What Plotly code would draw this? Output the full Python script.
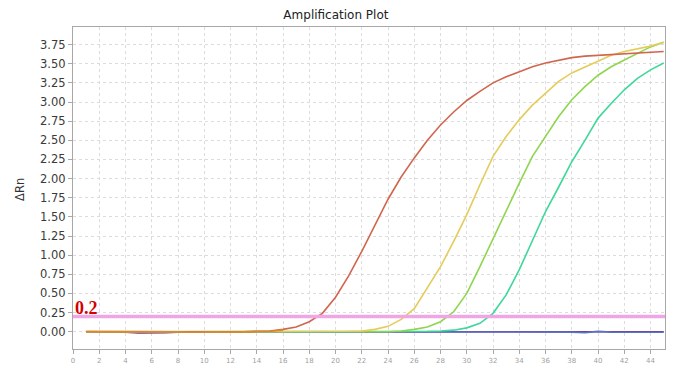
import plotly.graph_objects as go

cycles = list(range(1, 46))

red = [0, 0, 0, 0, -0.005, -0.005, 0, 0, -0.005, 0,
       0, 0, 0, 0.005, 0.01, 0.03, 0.06, 0.13, 0.24, 0.45,
       0.73, 1.05, 1.39, 1.73, 2.02, 2.27, 2.50, 2.70, 2.87, 3.02,
       3.14, 3.25, 3.33, 3.40, 3.46, 3.51, 3.55, 3.58, 3.60, 3.61,
       3.62, 3.63, 3.64, 3.65, 3.66]
yellow = [0, 0, 0, 0, 0, 0, 0, 0, 0, 0,
          0, 0, 0, 0, 0, 0, 0, 0, 0, 0.005,
          0.005, 0.01, 0.03, 0.07, 0.16, 0.30, 0.57, 0.85, 1.18, 1.53,
          1.92, 2.29, 2.55, 2.77, 2.96, 3.11, 3.27, 3.38, 3.46, 3.54,
          3.61, 3.66, 3.69, 3.73, 3.78]
green = [0, 0, 0, 0, 0, 0, 0, 0, 0, 0,
         0, 0, 0, 0, 0, 0, 0, 0, 0, 0,
         0, 0, 0, 0, 0.01, 0.03, 0.06, 0.13, 0.26, 0.50,
         0.85, 1.22, 1.59, 1.94, 2.29, 2.55, 2.81, 3.03, 3.20, 3.35,
         3.46, 3.55, 3.64, 3.72, 3.78]
teal = [0, 0, 0, 0, 0, 0, 0, 0, 0, 0,
        0, 0, 0, 0, 0, 0, 0, 0, 0, 0,
        0, 0, 0, 0, 0, 0, 0.005, 0.01, 0.02, 0.05,
        0.11, 0.24, 0.48, 0.81, 1.18, 1.57, 1.89, 2.22, 2.50, 2.79,
        2.98, 3.16, 3.31, 3.42, 3.51]
blue = [0, 0, 0, 0, 0, 0, 0, 0, 0, 0,
        0, 0, 0, 0, 0, 0, 0, 0, 0, 0,
        0, 0, 0, 0, 0, 0, 0, 0, 0, 0,
        0, 0, 0, 0, 0, 0, 0, -0.005, -0.012, 0.004,
        -0.006, -0.008, -0.008, -0.008, -0.008]
purple = [0, 0, 0, -0.008, -0.015, -0.015, -0.012, -0.005, 0, 0,
          0, 0, 0, 0, 0, 0, 0, 0, 0, 0,
          0, 0, 0, 0, 0, 0, 0, 0, 0, 0,
          0, 0, 0, 0, 0, 0, 0, 0, 0, 0,
          0, 0, 0, 0, 0]
orange = [0.004, 0.004, 0.004, 0.003, 0, 0, 0, 0, -0.008, -0.003,
          0, -0.005, 0, 0, 0.005, 0.02]

threshold = 0.2
threshold_label = "0.2"

x_ticks = list(range(0, 45, 2))
x_tick_labels = [str(v) for v in x_ticks]
y_ticks = [0.00, 0.25, 0.50, 0.75, 1.00, 1.25, 1.50, 1.75, 2.00, 2.25,
           2.50, 2.75, 3.00, 3.25, 3.50, 3.75]
y_tick_labels = [f"{v:.2f}" for v in y_ticks]

fig = go.Figure()

series = [
    ("purple", purple, "#7b2a8c"),
    ("blue", blue, "#5b72c2"),
    ("teal", teal, "#3ed89a"),
    ("green", green, "#8ed64e"),
    ("yellow", yellow, "#e4cc5a"),
    ("red", red, "#d0664e"),
    ("orange", orange, "#d98a2b"),
]
for name, vals, col in series:
    fig.add_trace(go.Scatter(x=cycles[:len(vals)], y=vals, mode="lines", name=name,
                             line=dict(color=col, width=1.6), showlegend=False,
                             hoverinfo="skip"))

fig.add_trace(go.Scatter(x=[0, 45.1], y=[threshold, threshold], mode="lines",
                         line=dict(color="#eea6e4", width=3.5), showlegend=False,
                         hoverinfo="skip"))

fig.add_annotation(x=0, y=threshold, xref="x", yref="y", text="<b>" + threshold_label + "</b>",
                   showarrow=False, xanchor="left", yanchor="bottom", xshift=0, yshift=-4,
                   font=dict(family="Liberation Serif", size=18, color="#d40000"))

fig.add_annotation(x=-0.0895, y=0.494, xref="paper", yref="paper", text="ΔRn",
                   showarrow=False, textangle=-90, xanchor="center", yanchor="middle",
                   font=dict(family="DejaVu Sans", size=11.5, color="#333333"))

fig.update_layout(
    width=672, height=358,
    margin=dict(l=65, r=15, t=19, b=17, autoexpand=False),
    paper_bgcolor="white", plot_bgcolor="white",
    title=dict(text="Amplification Plot", x=0.488, xanchor="center", y=0.980, yanchor="middle",
               font=dict(family="DejaVu Sans", size=12, color="#222222")),
    font=dict(family="DejaVu Sans"),
)
fig.update_xaxes(range=[0, 45.1], tickvals=x_ticks, ticktext=x_tick_labels,
                 showgrid=True, gridcolor="#dcdcdc", griddash="dot", gridwidth=1,
                 showline=True, linecolor="#a8a8a8", linewidth=1.2, mirror=True,
                 ticks="outside", ticklen=4, tickcolor="#a8a8a8", zeroline=False,
                 tickfont=dict(size=7, color="#a0a0a0"), automargin=False)
fig.update_yaxes(range=[-0.226, 3.98], tickvals=y_ticks, ticktext=y_tick_labels,
                 showgrid=True, gridcolor="#dcdcdc", griddash="dot", gridwidth=1,
                 showline=True, linecolor="#a8a8a8", linewidth=1.2, mirror=True,
                 ticks="outside", ticklen=4, tickcolor="#a8a8a8", zeroline=False,
                 tickfont=dict(size=11.5, color="#3a3a3a"), automargin=False)

fig.write_html("out.html")
